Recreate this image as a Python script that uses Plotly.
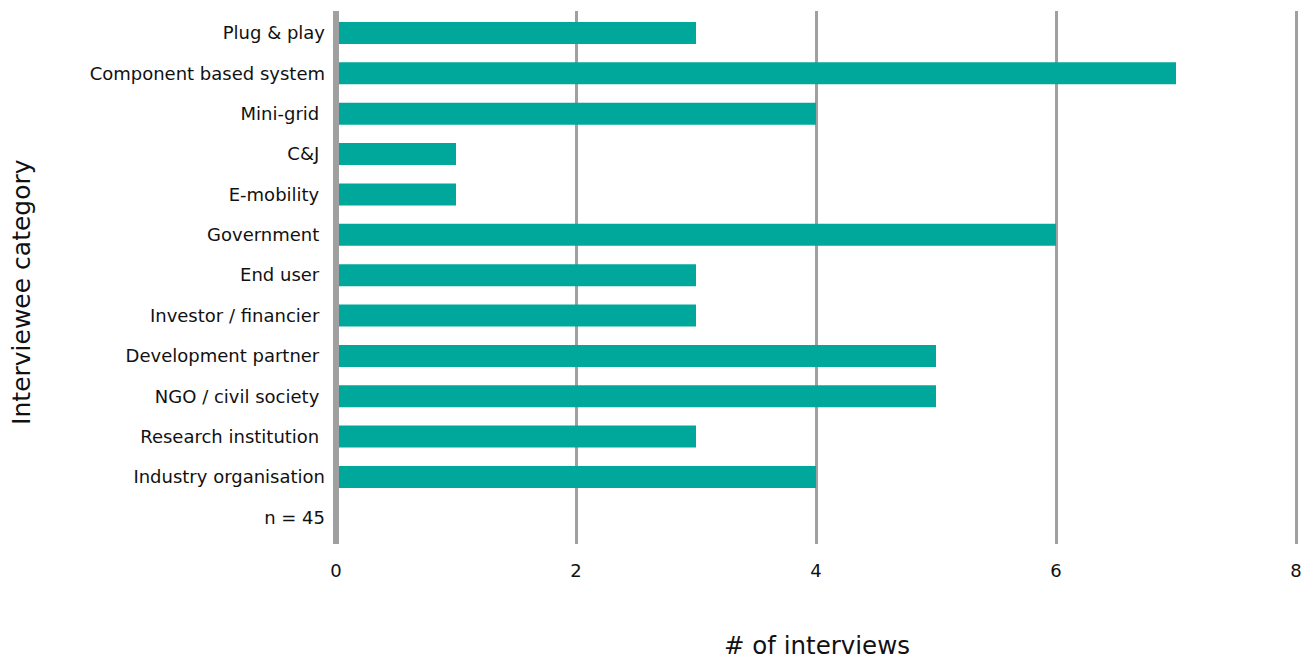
import plotly.graph_objects as go

categories = [
    "Plug & play",
    "Component based system",
    "Mini-grid ",
    "C&J ",
    "E-mobility ",
    "Government ",
    "End user ",
    "Investor / financier ",
    "Development partner ",
    "NGO / civil society ",
    "Research institution ",
    "Industry organisation",
    "n = 45",
]
interviews = [3, 7, 4, 1, 1, 6, 3, 3, 5, 5, 3, 4, None]

x_ticks = [0, 2, 4, 6, 8]
x_title = "# of interviews"
y_title = "Interviewee category"

BAR = "#00A89C"
GRID = "#A0A0A0"
FONT = "DejaVu Sans, Inter, Arial, sans-serif"

fig = go.Figure(
    go.Bar(
        y=categories,
        x=interviews,
        orientation="h",
        marker=dict(color=BAR, line=dict(width=0)),
        width=0.545,
        hoverinfo="x+y",
    )
)

# thick baseline along the left edge of the plot, drawn above the bars (paper ref so it is not clipped)
fig.add_shape(
    type="line", xref="paper", yref="paper",
    x0=0, x1=0, y0=0, y1=1,
    line=dict(color=GRID, width=6), layer="above",
)

# the page body adds an 8px offset; size the figure so the plot lands where the reference has it
fig.update_layout(
    width=1307,
    height=653,
    margin=dict(l=328, r=16, t=3, b=117),
    plot_bgcolor="white",
    paper_bgcolor="white",
    font=dict(family=FONT, size=18, color="#111111"),
    showlegend=False,
    xaxis=dict(
        range=[x_ticks[0], x_ticks[-1] * 963 / 960],
        tickvals=x_ticks,
        showgrid=True,
        gridcolor=GRID,
        gridwidth=3,
        zeroline=False,
        showline=False,
        ticks="",
        ticklabelstandoff=14,
        tickfont=dict(size=18),
        automargin=False,
    ),
    yaxis=dict(
        categoryorder="array",
        categoryarray=categories,
        range=[len(categories) - 1 + 0.661, -0.545],
        showgrid=False,
        zeroline=False,
        showline=False,
        ticks="",
        ticklabelstandoff=10,
        tickfont=dict(size=18),
        automargin=False,
    ),
    annotations=[
        dict(
            text=x_title, xref="paper", yref="paper",
            x=(817 - 336) / 963, y=-0.1895, xanchor="center", yanchor="middle",
            showarrow=False, font=dict(size=24.5),
        ),
        dict(
            text=y_title, xref="paper", yref="paper",
            x=(22 - 336) / 963, y=0.473, xanchor="center", yanchor="middle",
            textangle=-90, showarrow=False, font=dict(size=25),
        ),
    ],
)

fig.write_html("out.html")
